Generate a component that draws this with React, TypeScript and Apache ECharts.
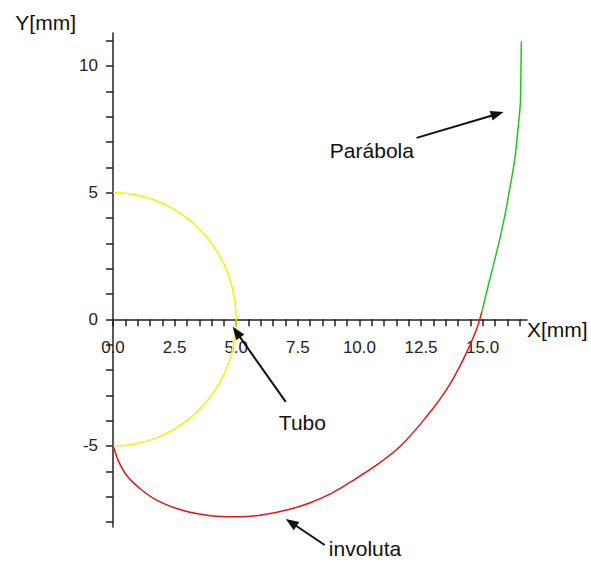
import React, { useEffect, useRef } from "react";
import * as echarts from "echarts";

// Axis tick labels
const xTickLabels = [0, 2.5, 5, 7.5, 10, 12.5, 15];
const yTickLabels = [-5, 0, 5, 10];
const xTickValues: number[] = [];
for (let i = 0; i <= 33; i++) xTickValues.push(i * 0.5);
const yTickValues: number[] = [];
for (let i = -8; i <= 11; i++) yTickValues.push(i);

// Tubo (circle, radius 5)
const tuboX = [0, 0.87, 1.71, 2.5, 3.21, 3.83, 4.33, 4.7, 4.92, 5, 4.92, 4.7, 4.33, 3.83, 3.21, 2.5, 1.71, 0.87, 0];
const tuboY = [5, 4.92, 4.7, 4.33, 3.83, 3.21, 2.5, 1.71, 0.87, 0, -0.87, -1.71, -2.5, -3.21, -3.83, -4.33, -4.7, -4.92, -5];

// Involuta
const invX = [0, 0.04, 0.21, 0.55, 1.09, 1.77, 2.58, 3.39, 4.2, 5.15, 6.09, 7.17, 8.0, 8.8, 9.61, 10.69, 11.7, 12.71, 13.52, 14.2, 14.74, 14.97];
const invY = [-5, -5.1, -5.57, -6.16, -6.68, -7.14, -7.47, -7.67, -7.78, -7.8, -7.72, -7.5, -7.24, -6.9, -6.44, -5.76, -4.97, -3.86, -2.8, -1.61, -0.43, 0.3];

// Parábola
const parX = [14.97, 15.28, 15.62, 15.89, 16.09, 16.3, 16.43, 16.53, 16.55, 16.57];
const parY = [0.3, 1.54, 2.86, 4.04, 5.1, 6.29, 7.47, 8.53, 9.45, 10.96];

// Annotations
const noteLabels = ["Parábola", "Tubo", "involuta"];
const noteX = [8.8, 6.73, 8.76];
const noteY = [6.68, -4.08, -9.05];
const arrowFromX = [12.32, 7.01, 8.59];
const arrowFromY = [7.16, -3.26, -8.91];
const arrowToX = [15.85, 4.86, 7.01];
const arrowToY = [8.18, -0.3, -7.88];

const zip = (a: number[], b: number[]) => a.map((v, i) => [v, b[i]]);

const Y_MIN = -8.2;
const Y_MAX = 11.3;
const GRID_TOP = 33;
const GRID_BOTTOM = 35;
const CHART_H = 562;

export default function App() {
  const ref = useRef<HTMLDivElement>(null);
  useEffect(() => {
    if (!ref.current) return;
    const chart = echarts.init(ref.current, null, { renderer: "svg" });
    const textFont = "'Liberation Sans', Arial, sans-serif";
    const axisColor = "#222";
    const plotH = CHART_H - GRID_TOP - GRID_BOTTOM;
    const zeroOffset = -(plotH * (0 - Y_MIN)) / (Y_MAX - Y_MIN);
    chart.setOption({
      animation: false,
      backgroundColor: "#fff",
      grid: { left: 113, right: 64, top: GRID_TOP, bottom: GRID_BOTTOM, containLabel: false },
      xAxis: {
        type: "value",
        min: 0,
        max: 16.8,
        position: "bottom",
        offset: zeroOffset,
        name: "X[mm]",
        nameLocation: "end",
        nameGap: 0,
        nameTextStyle: { fontFamily: textFont, fontSize: 21, color: "#111", align: "left", verticalAlign: "top" },
        axisLine: { show: true, onZero: false, lineStyle: { color: axisColor, width: 1.5 } },
        axisTick: { show: true, length: 7, customValues: xTickValues, lineStyle: { color: axisColor, width: 1.5 } },
        axisLabel: {
          customValues: xTickLabels,
          margin: 20,
          fontFamily: textFont,
          fontSize: 17,
          color: "#222",
          formatter: (v: number) => v.toFixed(1),
        },
        splitLine: { show: false },
      },
      yAxis: {
        type: "value",
        min: Y_MIN,
        max: Y_MAX,
        name: "Y[mm]",
        nameLocation: "end",
        nameGap: 11,
        nameTextStyle: { fontFamily: textFont, fontSize: 21, color: "#111", align: "right", verticalAlign: "middle", padding: [0, 37, 0, 0] },
        axisLine: { show: true, onZero: false, lineStyle: { color: axisColor, width: 1.5 } },
        axisTick: { show: true, length: 7, customValues: yTickValues, lineStyle: { color: axisColor, width: 1.5 } },
        axisLabel: {
          customValues: yTickLabels,
          margin: 15,
          fontFamily: textFont,
          fontSize: 17,
          color: "#222",
          formatter: (v: number) => String(v),
        },
        splitLine: { show: false },
      },
      series: [
        {
          name: "Tubo",
          type: "line",
          data: zip(tuboX, tuboY),
          smooth: true,
          showSymbol: false,
          lineStyle: { color: "#f2f20a", width: 1.5 },
          z: 2,
        },
        {
          name: "involuta",
          type: "line",
          data: zip(invX, invY),
          smooth: 0.35,
          showSymbol: false,
          lineStyle: { color: "#e01818", width: 1.5 },
          z: 3,
        },
        {
          name: "Parábola",
          type: "line",
          data: zip(parX, parY),
          smooth: 0.35,
          showSymbol: false,
          lineStyle: { color: "#22c422", width: 1.5 },
          z: 3,
        },
        {
          type: "custom",
          clip: false,
          z: 5,
          silent: true,
          encode: { x: [0, 2], y: [1, 3] },
          data: arrowFromX.map((v, i) => [v, arrowFromY[i], arrowToX[i], arrowToY[i]]),
          renderItem: (params: any, api: any) => {
            const p1 = api.coord([api.value(0), api.value(1)]);
            const p2 = api.coord([api.value(2), api.value(3)]);
            const dx = p2[0] - p1[0];
            const dy = p2[1] - p1[1];
            const len = Math.hypot(dx, dy) || 1;
            const ux = dx / len;
            const uy = dy / len;
            const hl = 13;
            const hw = 5;
            const bx = p2[0] - ux * hl;
            const by = p2[1] - uy * hl;
            return {
              type: "group",
              children: [
                {
                  type: "line",
                  shape: { x1: p1[0], y1: p1[1], x2: bx + ux * 2, y2: by + uy * 2 },
                  style: { stroke: "#111", lineWidth: 2 },
                },
                {
                  type: "polygon",
                  shape: {
                    points: [
                      [p2[0], p2[1]],
                      [bx - uy * hw, by + ux * hw],
                      [bx + uy * hw, by - ux * hw],
                    ],
                  },
                  style: { fill: "#111" },
                },
              ],
            };
          },
        },
        {
          type: "custom",
          clip: false,
          z: 6,
          silent: true,
          data: zip(noteX, noteY),
          renderItem: (params: any, api: any) => {
            const p = api.coord([api.value(0), api.value(1)]);
            return {
              type: "text",
              x: p[0],
              y: p[1],
              style: {
                text: noteLabels[params.dataIndex],
                fill: "#111",
                fontSize: 21,
                fontFamily: textFont,
                align: "left",
                verticalAlign: "middle",
              },
            };
          },
        },
      ],
    });
    return () => chart.dispose();
  }, []);
  return (
    <div
      ref={ref}
      style={{ position: "fixed", left: 0, top: 0, width: 591, height: 562, background: "#fff" }}
    />
  );
}
